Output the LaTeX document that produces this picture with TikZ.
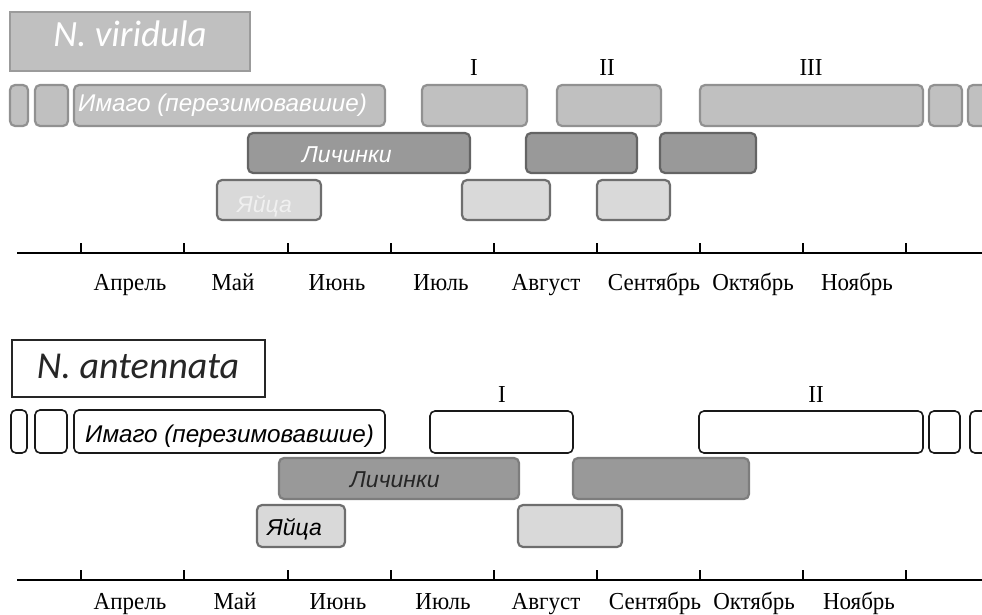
\documentclass[tikz,border=0pt]{standalone}
\usepackage{fontspec}
\setmainfont{Liberation Serif}
\newfontfamily\arialf{Liberation Sans}
\newfontfamily\calibf{Carlito}
\definecolor{imgF}{RGB}{192,192,192}
\definecolor{imgD}{RGB}{145,145,145}
\definecolor{larF}{RGB}{153,153,153}
\definecolor{larD}{RGB}{100,100,100}
\definecolor{larDb}{RGB}{125,125,125}
\definecolor{eggF}{RGB}{217,217,217}
\definecolor{eggD}{RGB}{110,110,110}
\definecolor{ttlD}{RGB}{155,155,155}
\definecolor{eggT}{RGB}{240,240,240}
\newcommand\bx[6]{\node[#6,anchor=north west,minimum width={(#4-#2)*1pt},minimum height={(#5-#3)*1pt}] (#1) at (#2,#3) {};}
\tikzset{
  gbox/.style={rounded corners=5pt, inner sep=0pt, outer sep=0pt, line width=2.2pt},
  vimg/.style={gbox, fill=imgF, draw=imgD},
  vlar/.style={gbox, fill=larF, draw=larD},
  egg/.style={gbox, fill=eggF, draw=eggD},
  aimg/.style={gbox, fill=white, draw=black!90, line width=1.6pt},
  alar/.style={gbox, fill=larF, draw=larDb},
  ttl/.style={inner sep=0pt, outer sep=0pt},
  btext/.style={font=\arialf\itshape\fontsize{23}{23}\selectfont, anchor=base west, inner sep=0pt},
  itext/.style={font=\arialf\itshape\fontsize{24.2}{24.2}\selectfont, anchor=base west, inner sep=0pt},
  month/.style={font=\fontsize{23}{23}\selectfont, anchor=base, inner sep=0pt, yscale=1.06},
  axisline/.style={line width=2.5pt},
  tick/.style={line width=1.3pt}
}
\begin{document}
\begin{tikzpicture}[x=1pt,y=-1pt]
\useasboundingbox (0,0) rectangle (982,615);
% ---------- N. viridula ----------
\bx{tv}{10}{12}{250}{71}{ttl, fill=imgF, draw=ttlD, line width=2pt}
\node[font=\calibf\itshape\fontsize{37}{37}\selectfont, text=white, anchor=base, inner sep=0pt] (tvt) at (130,47) {N. viridula};
% imago row
\bx{vi1}{10}{85}{28}{126}{vimg}
\bx{vi2}{35}{85}{68}{126}{vimg}
\bx{vi3}{74}{85}{385}{126}{vimg}
\bx{vi4}{422}{85}{527}{126}{vimg}
\bx{vi5}{557}{85}{661}{126}{vimg}
\bx{vi6}{700}{85}{923}{126}{vimg}
\bx{vi7}{929}{85}{962}{126}{vimg}
\bx{vi8}{968}{85}{995}{126}{vimg}
\node[itext, text=white] (vit) at (78,112) {Имаго (перезимовавшие)};
% larvae row
\bx{vl1}{248}{133}{470}{173}{vlar}
\bx{vl2}{526}{133}{637}{173}{vlar}
\bx{vl3}{660}{133}{756}{173}{vlar}
\node[btext, text=white] (vlt) at (302,162) {Личинки};
% eggs row
\bx{ve1}{217}{180}{321}{220}{egg}
\bx{ve2}{462}{180}{550}{220}{egg}
\bx{ve3}{597}{180}{670}{220}{egg}
\node[btext, text=eggT] (vet) at (237,212) {Яйца};
% generations
\node[month] (vg1) at (474,76) {I};
\node[month] (vg2) at (607,76) {II};
\node[month] (vg3) at (811,76) {III};
% axis
\coordinate (aL) at (17,253);
\coordinate (aR) at (982,253);
\draw[axisline] (aL) -- (aR);
\foreach \x [count=\i] in {81,184,288,391,494,597,700,803,906}{
  \coordinate (at\i) at (\x,253);
  \draw[tick] (at\i) -- ++(0,-10);
}
\foreach \x/\m [count=\i] in {130/Апрель,233/Май,337/Июнь,441/Июль,546/Август,654/Сентябрь,753/Октябрь,857/Ноябрь}{
  \node[month] (am\i) at (\x,290) {\m};
}
% ---------- N. antennata ----------
\bx{ta}{12}{340}{265}{397}{ttl, fill=white, draw=black!85, line width=1.6pt}
\node[font=\calibf\itshape\fontsize{38}{38}\selectfont, text=black!85, anchor=base, inner sep=0pt] (tat) at (138,378) {N. antennata};
% imago row
\bx{ai1}{11}{410}{27}{453}{aimg}
\bx{ai2}{35}{410}{67}{453}{aimg}
\bx{ai3}{74}{410}{385}{453}{aimg}
\bx{ai4}{430}{411}{573}{453}{aimg}
\bx{ai5}{699}{411}{923}{453}{aimg}
\bx{ai6}{929}{411}{960}{453}{aimg}
\bx{ai7}{970}{411}{995}{453}{aimg}
\node[itext, text=black] (ait) at (85,442) {Имаго (перезимовавшие)};
% larvae row
\bx{al1}{279}{458}{519}{499}{alar}
\bx{al2}{573}{458}{749}{499}{alar}
\node[btext, text=black!85] (alt) at (350,487) {Личинки};
% eggs row
\bx{ae1}{257}{505}{345}{547}{egg}
\bx{ae2}{518}{505}{622}{547}{egg}
\node[btext, text=black] (aet) at (267,535) {Яйца};
% generations
\node[month] (ag1) at (502,402) {I};
\node[month] (ag2) at (816,402) {II};
% axis
\coordinate (bL) at (17,580);
\coordinate (bR) at (982,580);
\draw[axisline] (bL) -- (bR);
\foreach \x [count=\i] in {81,184,288,391,494,597,700,803,906}{
  \coordinate (bt\i) at (\x,580);
  \draw[tick] (bt\i) -- ++(0,-10);
}
\foreach \x/\m [count=\i] in {130/Апрель,235/Май,338/Июнь,443/Июль,546/Август,655/Сентябрь,754/Октябрь,859/Ноябрь}{
  \node[month] (bm\i) at (\x,609) {\m};
}
\end{tikzpicture}
\end{document}
